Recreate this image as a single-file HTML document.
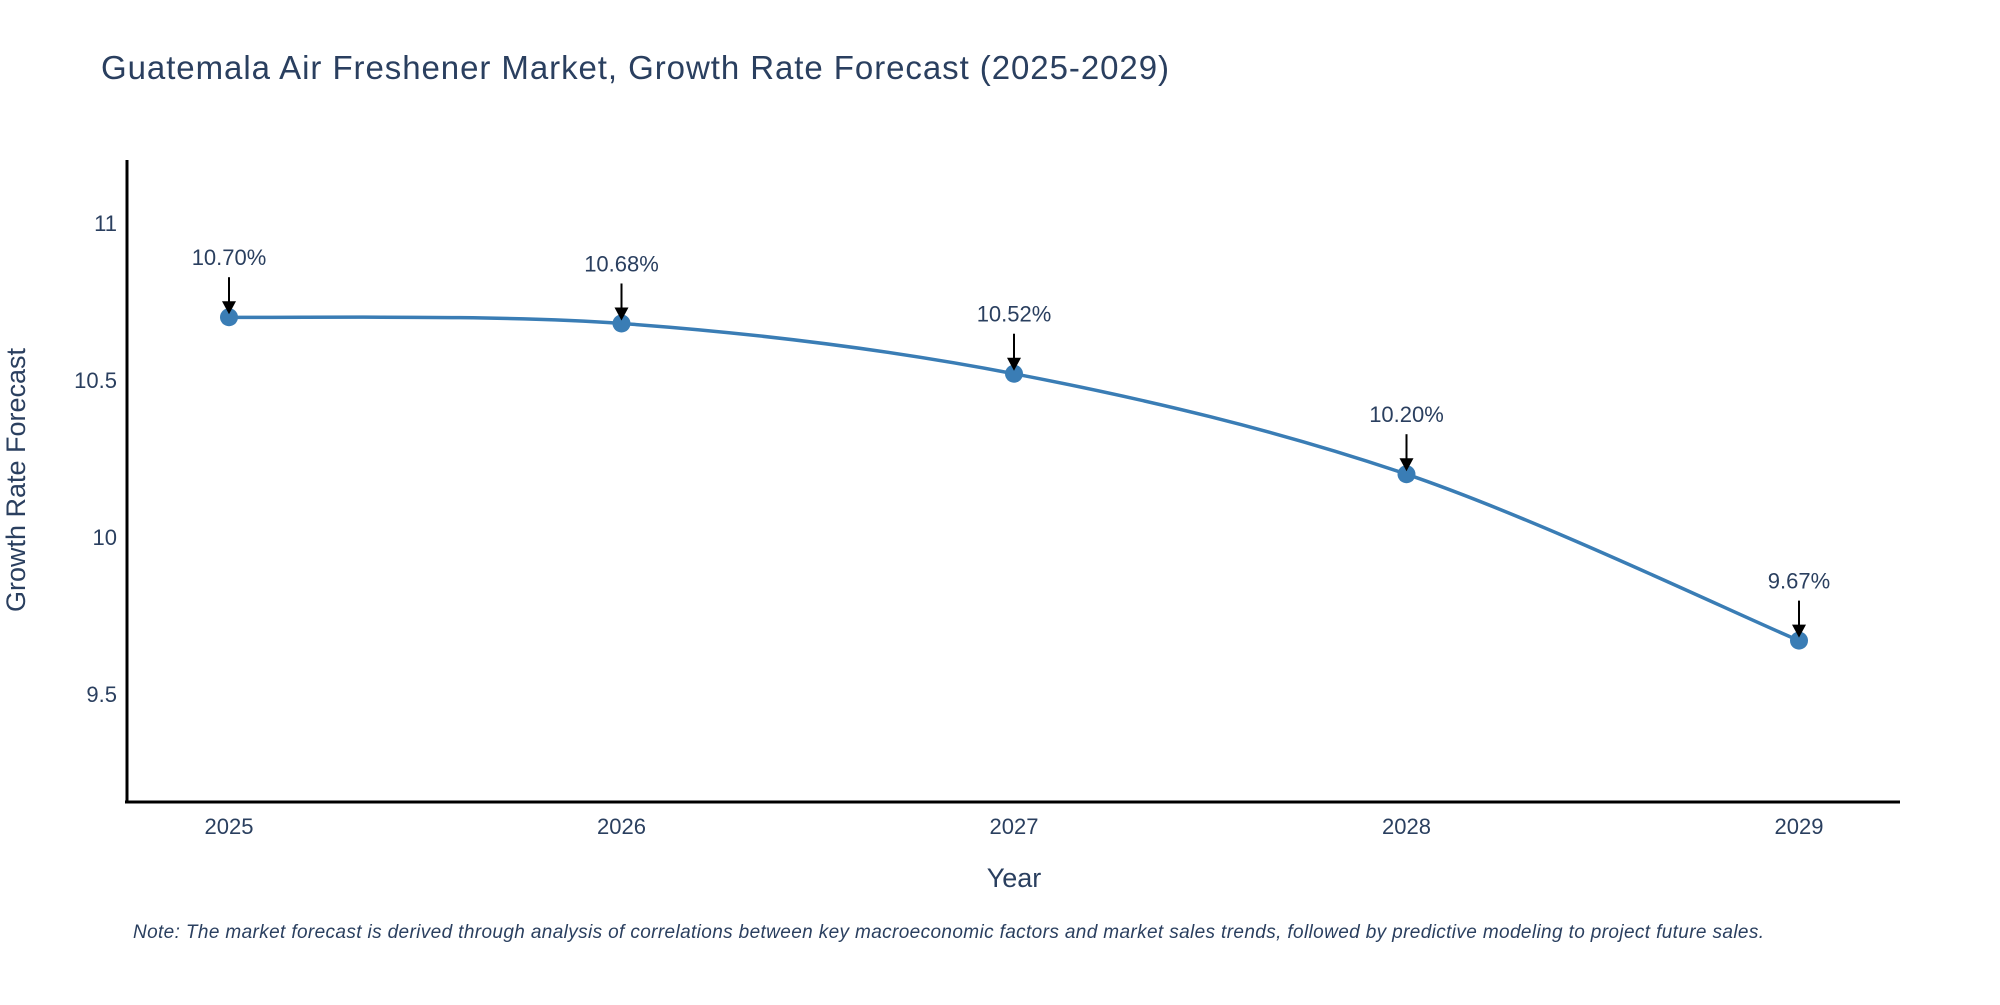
<!DOCTYPE html>
<html><head><meta charset="utf-8"><style>
body{margin:0;background:#fff;}
svg text{font-family:"Liberation Sans",sans-serif;}
</style></head><body>
<svg id="chart" width="2000" height="1000" viewBox="0 0 2000 1000" xmlns="http://www.w3.org/2000/svg">
<text x="101" y="79" font-size="33" fill="#2a3f5f" textLength="1068">Guatemala Air Freshener Market, Growth Rate Forecast (2025-2029)</text>
<g id="yticks"></g><g id="xticks"></g>
<line x1="127" y1="160" x2="127" y2="803" stroke="#000" stroke-width="3"/>
<line x1="125" y1="802" x2="1900" y2="802" stroke="#000" stroke-width="3"/>
<path id="line" fill="none" stroke="#3a7db5" stroke-width="3.5"/>
<g id="marks"></g>
<text x="25" y="480" font-size="27" fill="#2a3f5f" text-anchor="middle" transform="rotate(-90 25 480)">Growth Rate Forecast</text>
<text x="1014" y="887" font-size="27" fill="#2a3f5f" text-anchor="middle">Year</text>
<text x="133" y="938" font-size="19" font-style="italic" fill="#2a3f5f" textLength="1631">Note: The market forecast is derived through analysis of correlations between key macroeconomic factors and market sales trends, followed by predictive modeling to project future sales.</text>
</svg>
<script>
const years=[2025,2026,2027,2028,2029];
const values=[10.70,10.68,10.52,10.20,9.67];
const labels=["10.70%","10.68%","10.52%","10.20%","9.67%"];
const yTicks=[9.5,10,10.5,11];
const yTickLabels=["9.5","10","10.5","11"];
const NS="http://www.w3.org/2000/svg";
const X=v=>229+(v-2025)*392.5;
const Y=v=>223+(11-v)*314;
function mk(t,a,p){const e=document.createElementNS(NS,t);for(const k in a)e.setAttribute(k,a[k]);p.appendChild(e);return e;}
const yg=document.getElementById('yticks');
yTicks.forEach((t,i)=>{const e=mk('text',{x:117,y:Y(t)+8,'font-size':22,fill:'#2a3f5f','text-anchor':'end'},yg);


e.textContent=yTickLabels[i];});
const xg=document.getElementById('xticks');
years.forEach(y=>{const e=mk('text',{x:X(y),y:834,'font-size':22,fill:'#2a3f5f','text-anchor':'middle'},xg);


e.textContent=y;});
const pts=years.map((y,i)=>[X(y),Y(values[i])]);
let d=`M${pts[0][0]},${pts[0][1]}`;
for(let i=0;i<pts.length-1;i++){const p0=pts[Math.max(0,i-1)],p1=pts[i],p2=pts[i+1],p3=pts[Math.min(pts.length-1,i+2)];const t=1/6;
d+=` C${p1[0]+(p2[0]-p0[0])*t},${p1[1]+(p2[1]-p0[1])*t} ${p2[0]-(p3[0]-p1[0])*t},${p2[1]-(p3[1]-p1[1])*t} ${p2[0]},${p2[1]}`;}
document.getElementById('line').setAttribute('d',d);
const mg=document.getElementById('marks');
pts.forEach((p,i)=>{
const c=mk('circle',{cx:p[0],cy:p[1],r:9,fill:'#3a7db5'},mg);


const l=mk('line',{x1:p[0],y1:p[1]-40,x2:p[0],y2:p[1]-14,stroke:'#000','stroke-width':2},mg);


const h=mk('polygon',{points:`${p[0]-7},${p[1]-16} ${p[0]+7},${p[1]-16} ${p[0]},${p[1]-3}`,fill:'#000'},mg);


const t=mk('text',{x:p[0],y:p[1]-52,'font-size':22,fill:'#2a3f5f','text-anchor':'middle'},mg);


t.textContent=labels[i];});
</script>
</body></html>
